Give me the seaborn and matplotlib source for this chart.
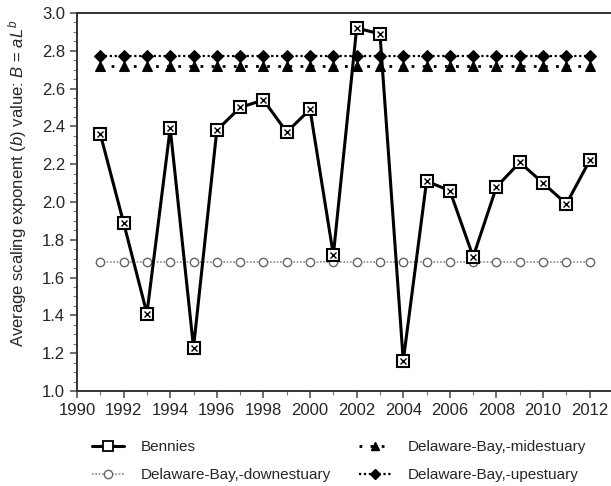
import numpy as np
import pandas as pd
import matplotlib
matplotlib.use("Agg")
import matplotlib.pyplot as plt
import seaborn as sns
from matplotlib.ticker import MultipleLocator
from matplotlib.lines import Line2D

years = list(range(1991, 2013))
bennies = [2.36, 1.89, 1.41, 2.39, 1.23, 2.38, 2.50, 2.54, 2.37, 2.49, 1.72,
           2.92, 2.89, 1.16, 2.11, 2.06, 1.71, 2.08, 2.21, 2.10, 1.99, 2.22]
down_val = 1.68
mid_val = 2.72
up_val = 2.77
downestuary = [down_val] * len(years)
midestuary = [mid_val] * len(years)
upestuary = [up_val] * len(years)

labels = ["Bennies", "Delaware-Bay,-downestuary",
          "Delaware-Bay,-midestuary", "Delaware-Bay,-upestuary"]

sns.set_style("ticks")
plt.rcParams['font.family'] = ['Liberation Sans', 'DejaVu Sans']
plt.rcParams['mathtext.fontset'] = 'custom'
plt.rcParams['mathtext.it'] = 'Liberation Sans:italic'
plt.rcParams['mathtext.rm'] = 'Liberation Sans'

fig = plt.figure(figsize=(6.11, 4.86), dpi=100)
ax = fig.add_axes([77/611, 1-391/486, (613-77)/611, (391-13)/486])

df = pd.DataFrame({"year": years, "bennies": bennies, "down": downestuary,
                   "mid": midestuary, "up": upestuary})

grey = "#8c8c8c"
sns.lineplot(data=df, x="year", y="down", ax=ax, color=grey, lw=1.2,
             linestyle=(0, (1, 1)), marker="o", markersize=6,
             markerfacecolor="white", markeredgecolor="#666666", markeredgewidth=1.0)
sns.lineplot(data=df, x="year", y="mid", ax=ax, color="black", lw=2.0,
             linestyle=(0, (1, 3)), marker="^", markersize=7,
             markerfacecolor="black", markeredgecolor="black")
sns.lineplot(data=df, x="year", y="up", ax=ax, color="black", lw=1.6,
             linestyle=(0, (1, 1.2)), marker="D", markersize=6,
             markerfacecolor="black", markeredgecolor="black")
sns.lineplot(data=df, x="year", y="bennies", ax=ax, color="black", lw=2.2,
             marker="s", markersize=8.5, markerfacecolor="white",
             markeredgecolor="black", markeredgewidth=1.5)
ax.plot(df["year"], df["bennies"], linestyle="none", marker="x", markersize=5,
        color="black", markeredgewidth=1.0)

ax.set_xlim(1990, 2013)
ax.set_ylim(1.0, 3.0)
ax.xaxis.set_major_locator(MultipleLocator(2))
ax.xaxis.set_minor_locator(MultipleLocator(1))
ax.yaxis.set_major_locator(MultipleLocator(0.2))
ax.yaxis.set_minor_locator(MultipleLocator(0.05))
ax.yaxis.set_major_formatter(matplotlib.ticker.FormatStrFormatter("%.1f"))
ax.tick_params(axis="both", which="major", labelsize=12, direction="out",
               length=5, width=1.2, color="#555555")
ax.tick_params(axis="both", which="minor", direction="out", length=3,
               width=0.8, color="#777777")
for s in ["left", "bottom", "top"]:
    ax.spines[s].set_linewidth(1.4)
    ax.spines[s].set_color("#333333")
ax.spines["right"].set_visible(False)
ax.set_xlabel("")
ax.set_ylabel(r"Average scaling exponent ($b$) value: $B$ = $aL^b$", fontsize=12)
ax.yaxis.set_label_coords(-0.09, 0.55)

handles = [
    Line2D([], [], color="black", lw=2.2, marker="s", markersize=7,
           markerfacecolor="white", markeredgecolor="black", markeredgewidth=1.3),
    Line2D([], [], color=grey, lw=1.2, linestyle=(0, (1, 1)), marker="o",
           markersize=6, markerfacecolor="white", markeredgecolor="#666666"),
    Line2D([], [], color="black", lw=2.0, linestyle=(0, (1, 3)), marker="^",
           markersize=6, markerfacecolor="black"),
    Line2D([], [], color="black", lw=1.6, linestyle=(0, (1, 1.2)), marker="D",
           markersize=5, markerfacecolor="black"),
]
fig.legend(handles, labels, ncol=2, loc="lower left",
           bbox_to_anchor=(92/611, 0.008), frameon=False, fontsize=11,
           numpoints=1, handlelength=2.1, columnspacing=1.8,
           labelspacing=0.9, handletextpad=1.1, borderaxespad=0, borderpad=0)

fig.savefig("out.png", dpi=100)
